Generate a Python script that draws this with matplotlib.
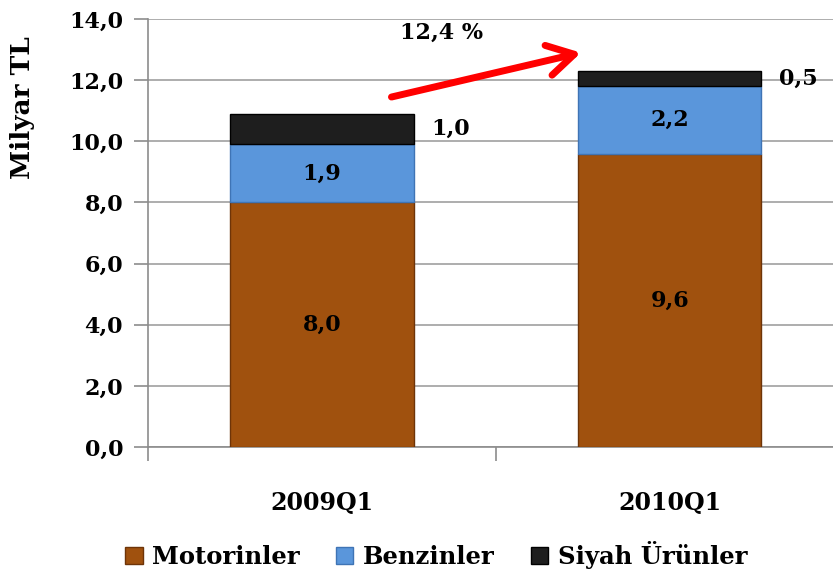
import numpy as np
import matplotlib
matplotlib.use("Agg")
from matplotlib import pyplot as plt

categories = ["2009Q1", "2010Q1"]
motorinler = [8.0, 9.6]
benzinler = [1.9, 2.2]
siyah = [1.0, 0.5]
series_names = ["Motorinler", "Benzinler", "Siyah Ürünler"]
yticks = [0, 2, 4, 6, 8, 10, 12, 14]
growth_label = "12,4 %"

plt.rcParams["font.family"] = ["DejaVu Serif"]
plt.rcParams["font.weight"] = "bold"

fig = plt.figure(figsize=(8.33, 5.78), dpi=100)
ax = fig.add_axes([0.1777, 0.2266, 0.835, 0.7404])

x = np.arange(len(categories))
w = 0.527
colors = ["#A0510E", "#5A96DB", "#1E1E1E"]
edges = ["#6E3408", "#3F74B5", "#000000"]

b1 = ax.bar(x, motorinler, w, color=colors[0], edgecolor=edges[0], linewidth=1, zorder=3, label=series_names[0])
b2 = ax.bar(x, benzinler, w, bottom=motorinler, color=colors[1], edgecolor=edges[1], linewidth=1, zorder=3, label=series_names[1])
bottom3 = [m + b for m, b in zip(motorinler, benzinler)]
b3 = ax.bar(x, siyah, w, bottom=bottom3, color=colors[2], edgecolor=edges[2], linewidth=1, zorder=3, label=series_names[2])

fmt = lambda v: f"{v:.1f}".replace(".", ",")

# labels inside the bars
for i in range(len(categories)):
    ax.text(x[i], motorinler[i] / 2, fmt(motorinler[i]), ha="center", va="center",
            fontsize=16, fontweight="bold", zorder=5)
    ax.text(x[i], motorinler[i] + benzinler[i] / 2, fmt(benzinler[i]), ha="center", va="center",
            fontsize=16, fontweight="bold", zorder=5)
    ax.text(x[i] + w / 2 + 0.05, bottom3[i] + siyah[i] / 2, fmt(siyah[i]), ha="left", va="center",
            fontsize=16, fontweight="bold", zorder=5)

# growth arrow
ax.annotate("", xy=(0.745, 12.9), xytext=(0.2, 11.45),
            arrowprops=dict(arrowstyle="->,head_length=1.9,head_width=1.1", color="#FF0000",
                            lw=5, shrinkA=0, shrinkB=0, mutation_scale=10), zorder=6)
ax.text(0.344, 13.55, growth_label, ha="center", va="center", fontsize=16, fontweight="bold")

ax.set_xlim(-0.5, 1.5)
ax.set_ylim(0, 14)
ax.set_yticks(yticks)
ax.set_yticklabels([fmt(v) for v in yticks], fontsize=16, fontweight="bold")
ax.set_xticks([-0.5, 0.5, 1.5])
ax.set_xticklabels([])
ax.set_xticks(x, minor=True)
ax.set_xticklabels(categories, minor=True, fontsize=17, fontweight="bold")
ax.tick_params(axis="x", which="minor", length=0, pad=32)
ax.tick_params(axis="x", which="major", length=10, color="#8C8C8C", width=1.2, direction="out")
ax.tick_params(axis="y", length=10, color="#8C8C8C", width=1.2, pad=8)

ax.grid(axis="y", color="#A0A0A0", linewidth=1.2, zorder=0)
for s in ["top", "right"]:
    ax.spines[s].set_visible(False)
for s in ["left", "bottom"]:
    ax.spines[s].set_color("#8C8C8C")
    ax.spines[s].set_linewidth(1.2)

fig.text(0.027, 1 - 108 / 578, "Milyar TL", rotation=90, ha="center", va="center",
         fontsize=19, fontweight="bold")

fig.legend(handles=[b1, b2, b3], labels=series_names, loc="center", bbox_to_anchor=(0.524, 0.04),
           ncol=3, frameon=False, fontsize=17.5, handlelength=0.7, handleheight=0.7,
           handletextpad=0.4, columnspacing=1.5)

fig.savefig("out.png", dpi=100)
